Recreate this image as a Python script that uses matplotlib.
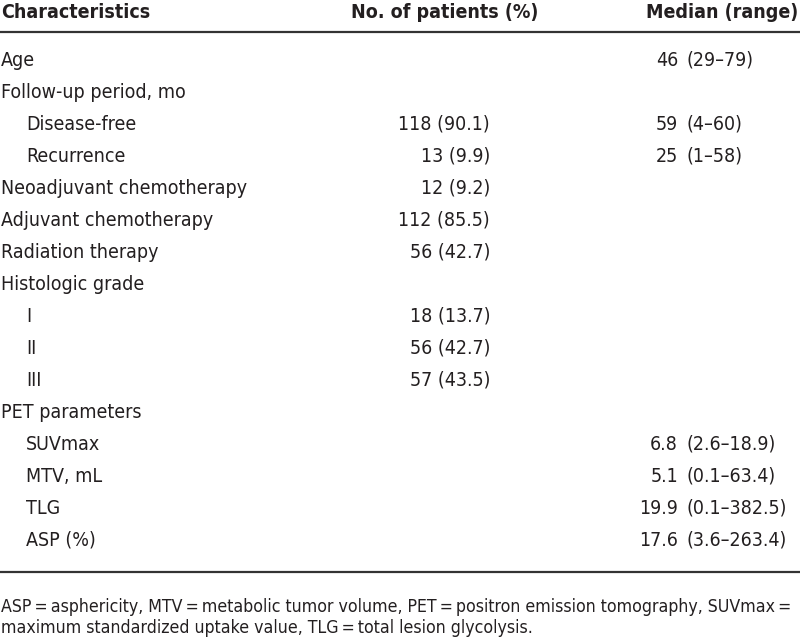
import matplotlib
matplotlib.use("Agg")
import matplotlib.pyplot as plt

plt.rcParams['font.family'] = ['DejaVu Sans']
plt.rcParams['font.stretch'] = 'condensed'

headers = ["Characteristics", "No. of patients (%)", "Median (range)"]

labels = ["Age", "Follow-up period, mo", "Disease-free", "Recurrence",
          "Neoadjuvant chemotherapy", "Adjuvant chemotherapy", "Radiation therapy",
          "Histologic grade", "I", "II", "III", "PET parameters",
          "SUVmax", "MTV, mL", "TLG", "ASP (%)"]
sub_item = [False, False, True, True, False, False, False, False,
            True, True, True, False, True, True, True, True]
patients = ["", "", "118 (90.1)", "13 (9.9)", "12 (9.2)", "112 (85.5)", "56 (42.7)",
            "", "18 (13.7)", "56 (42.7)", "57 (43.5)", "", "", "", "", ""]
medians = ["46", "", "59", "25", "", "", "", "", "", "", "", "",
           "6.8", "5.1", "19.9", "17.6"]
ranges = ["(29\u201379)", "", "(4\u201360)", "(1\u201358)", "", "", "", "", "", "", "", "",
          "(2.6\u201318.9)", "(0.1\u201363.4)", "(0.1\u2013382.5)", "(3.6\u2013263.4)"]

footnote = ["ASP\u2009=\u2009asphericity, MTV\u2009=\u2009metabolic tumor volume, "
            "PET\u2009=\u2009positron emission tomography, SUVmax\u2009=",
            "maximum standardized uptake value, TLG\u2009=\u2009total lesion glycolysis."]

W, H = 800, 638
fig = plt.figure(figsize=(W / 100, H / 100), dpi=100)
ax = fig.add_axes([0, 0, 1, 1])
ax.set_xlim(0, W)
ax.set_ylim(H, 0)
ax.axis("off")

ink = "#231f20"
fs = 14

# header
ax.text(1, 12, headers[0], fontsize=fs, fontweight="bold", color=ink, va="center", ha="left")
ax.text(538, 12, headers[1], fontsize=fs, fontweight="bold", color=ink, va="center", ha="right")
ax.text(798, 12, headers[2], fontsize=fs, fontweight="bold", color=ink, va="center", ha="right")
ax.plot([0, W], [32, 32], color="#333333", lw=1.6, solid_capstyle="butt")

y0, dy = 60, 32
for i, lab in enumerate(labels):
    y = y0 + i * dy
    x = 26 if sub_item[i] else 1
    ax.text(x, y, lab, fontsize=fs, color=ink, va="center", ha="left")
    if patients[i]:
        ax.text(490, y, patients[i], fontsize=fs, color=ink, va="center", ha="right")
    if medians[i]:
        ax.text(678, y, medians[i], fontsize=fs, color=ink, va="center", ha="right")
        ax.text(686, y, ranges[i], fontsize=fs, color=ink, va="center", ha="left")

ax.plot([0, W], [572, 572], color="#333333", lw=1.6, solid_capstyle="butt")

ax.text(1, 607, footnote[0], fontsize=12.7, color=ink, va="center", ha="left")
ax.text(1, 628, footnote[1], fontsize=12.7, color=ink, va="center", ha="left")

fig.savefig("out.png", dpi=100)
